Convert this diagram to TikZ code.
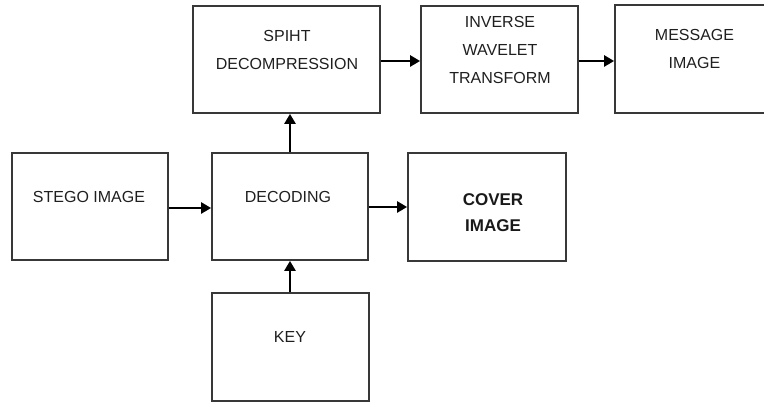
\documentclass[tikz,border=0pt]{standalone}
\usepackage{fontspec}
\setmainfont{Liberation Sans}
\usetikzlibrary{arrows.meta}
\tikzset{
  blk/.style={draw=black!78, line width=1.8pt, rectangle, inner sep=0pt},
  lbl/.style={font=\fontsize{16}{28}\selectfont, align=center, anchor=base, text=black!88, inner sep=0pt},
  lblb/.style={font=\bfseries\fontsize{17}{26}\selectfont, align=center, anchor=base, text=black!90, inner sep=0pt},
  arr/.style={line width=2.8pt, -{Triangle[length=10pt,width=11pt]}, black}
}
\begin{document}
\begin{tikzpicture}[x=1pt,y=-1pt]
\useasboundingbox (0,0) rectangle (764,403);
\clip (0,0) rectangle (764,403);
% boxes
\node[blk, minimum width=187pt, minimum height=107pt] (spiht) at (286.5,59.5) {};
\node[blk, minimum width=157pt, minimum height=107pt] (iwt) at (499.5,59.5) {};
\node[blk, minimum width=158pt, minimum height=108pt] (msg) at (694,59) {};
\node[blk, minimum width=156pt, minimum height=107pt] (stego) at (90,206.5) {};
\node[blk, minimum width=156pt, minimum height=107pt] (dec) at (290,206.5) {};
\node[blk, minimum width=158pt, minimum height=108pt] (cover) at (487,207) {};
\node[blk, minimum width=157pt, minimum height=108pt] (key) at (290.5,347) {};
% labels (base = baseline of last line)
\node[lbl] (tspiht) at (287,69.5) {SPIHT\\DECOMPRESSION};
\node[lbl] (tiwt) at (500,84) {INVERSE\\WAVELET\\TRANSFORM};
\node[lbl] (tmsg) at (694.5,69) {MESSAGE\\IMAGE};
\node[lbl] (tstego) at (89,203) {STEGO IMAGE};
\node[lbl] (tdec) at (288,203) {DECODING};
\node[lblb] (tcover) at (493,232) {COVER\\IMAGE};
\node[lbl] (tkey) at (290,343) {KEY};
% arrows
\draw[arr] (spiht.east |- 0,61) -- (iwt.west |- 0,61);
\draw[arr] (iwt.east |- 0,61) -- (msg.west |- 0,61);
\draw[arr] (stego.east |- 0,208) -- (dec.west |- 0,208);
\draw[arr] (dec.east |- 0,207) -- (cover.west |- 0,207);
\draw[arr] (dec.north) -- (spiht.south -| dec.north);
\draw[arr] (key.north -| dec.south) -- (dec.south);
\end{tikzpicture}
\end{document}
